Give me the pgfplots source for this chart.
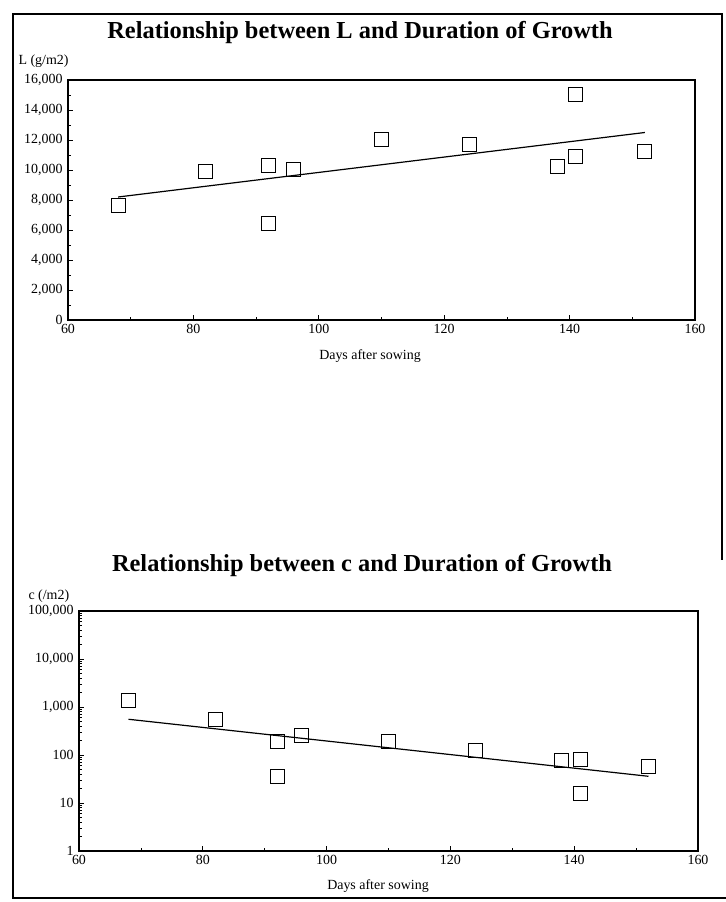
\documentclass[border=0pt]{standalone}
\usepackage{fontspec}
\setmainfont{Liberation Serif}
\usepackage{pgfplots}
\pgfplotsset{compat=1.18}
\pgfplotsset{
  myaxis/.style={
    scale only axis,
    xmin=60, xmax=160,
    xtick={60,80,100,120,140,160},
    minor x tick num=1,
    xtick pos=left, ytick pos=left,
    tick align=inside,
    major tick length=5bp, minor tick length=3bp,
    tick style={black, line width=0.8bp},
    axis line style={line width=1.1bp},
    tick label style={font=\fontsize{14}{16}\selectfont},
    /pgf/number format/assume math mode=true,
    /pgf/number format/1000 sep={,},
    xticklabel style={yshift=-1bp},
    yticklabel style={xshift=-2bp},
  }
}
\begin{document}
\begin{tikzpicture}
\useasboundingbox (0bp,0bp) rectangle (726bp,902bp);
% outer frame
\draw[line width=1.4bp] (722bp,342bp) -- (722bp,888bp) -- (13bp,888bp) -- (13bp,4bp) -- (726bp,4bp);

% ---------- top chart ----------
\node[anchor=base, font=\fontsize{24.5}{28}\selectfont\bfseries] at (360bp,863bp) {Relationship between L and Duration of Growth};
\node[anchor=west, font=\fontsize{14}{16}\selectfont] at (15bp,841bp) {L (g/m2)};
\begin{axis}[myaxis,
  at={(68bp,582bp)}, anchor=south west,
  width=627bp, height=240bp,
  ymin=0, ymax=16000,
  ytick={0,2000,4000,6000,8000,10000,12000,14000,16000},
  minor y tick num=1,
  scaled y ticks=false,
]
\addplot[only marks, mark=square, mark size=7bp, mark options={line width=1bp, black}] coordinates {
  (68,7600) (82,9900) (92,10300) (92,6400) (96,10000) (110,12000)
  (124,11700) (138,10200) (141,10900) (141,15000) (152,11200)
};
\addplot[black, line width=1.2bp] coordinates {(68,8200) (152,12500)};
\end{axis}
\node[font=\fontsize{14}{16}\selectfont] at (370bp,546bp) {Days after sowing};

% ---------- bottom chart ----------
\node[anchor=base, font=\fontsize{24.5}{28}\selectfont\bfseries] at (362bp,330bp) {Relationship between c and Duration of Growth};
\node[anchor=west, font=\fontsize{14}{16}\selectfont] at (25bp,306bp) {c (/m2)};
\begin{axis}[myaxis,
  at={(79bp,51bp)}, anchor=south west,
  width=619bp, height=240bp,
  ymode=log, ymin=1, ymax=100000,
  ytick={1,10,100,1000,10000,100000},
  yticklabels={1,10,100,{1,000},{10,000},{100,000}},
]
\addplot[only marks, mark=square, mark size=7bp, mark options={line width=1bp, black}] coordinates {
  (68,1360) (82,560) (92,190) (92,35) (96,250) (110,195)
  (124,127) (138,78) (141,81) (141,16) (152,57)
};
\addplot[black, line width=1.2bp] coordinates {(68,555) (152,36)};
\end{axis}
\node[font=\fontsize{14}{16}\selectfont] at (378bp,16bp) {Days after sowing};
\end{tikzpicture}
\end{document}
